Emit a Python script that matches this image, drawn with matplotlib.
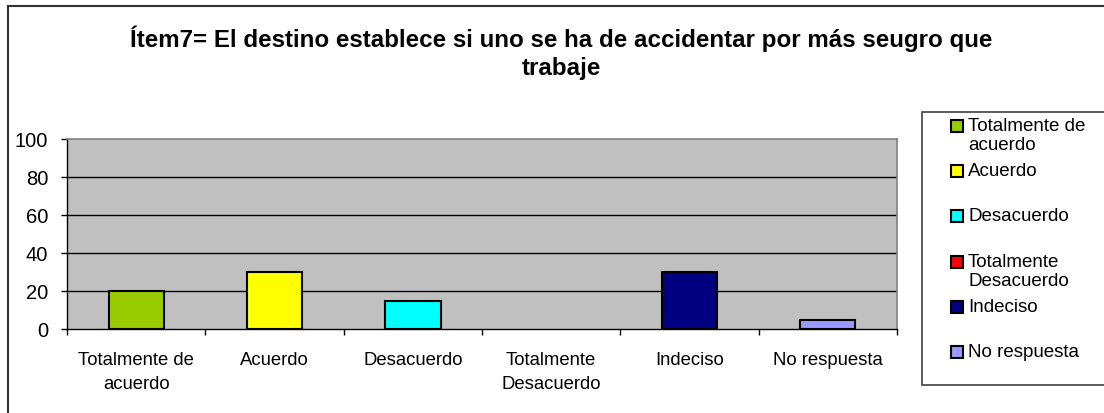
import matplotlib
matplotlib.use("Agg")
import matplotlib.pyplot as plt
from matplotlib.patches import Rectangle
from matplotlib.lines import Line2D
import numpy as np

# ===========================
# Data
# ===========================
TITLE = "Ítem7= El destino establece si uno se ha de accidentar por más seugro que\ntrabaje"
categories = ["Totalmente de\nacuerdo", "Acuerdo", "Desacuerdo",
              "Totalmente\nDesacuerdo", "Indeciso", "No respuesta"]
values = [20, 30, 15, 0, 30, 5]
colors = ["#99CC00", "#FFFF00", "#00FFFF", "#FF0000", "#000080", "#9999FF"]
y_ticks = [0, 20, 40, 60, 80, 100]

# ===========================
# Layout (pixels of the 1104x414 output)
# ===========================
W, H = 1104, 414
plt.rcParams["font.family"] = ["Liberation Sans", "DejaVu Sans"]


def fx(x):
    return x / W


def fy(y):
    return 1 - y / H


fig = plt.figure(figsize=(W / 100, H / 100), dpi=100)
fig.patch.set_facecolor("white")

# outer chart frame (right and bottom edges lie outside the picture)
fig.add_artist(Line2D([fx(8), fx(8)], [fy(7), fy(420)], color="#333333", lw=1.5))
fig.add_artist(Line2D([fx(8), fx(1110)], [fy(7), fy(7)], color="#333333", lw=1.5))

# plot area
left, right, top, bottom = 67, 897, 140, 330
ax = fig.add_axes([fx(left), fy(bottom), fx(right - left), (bottom - top) / H])
ax.set_facecolor("#C0C0C0")

x = np.arange(len(values))
edge_w = [1.5 if v > 0 else 0 for v in values]
ax.bar(x, values, width=0.4, color=colors, edgecolor="black", linewidth=edge_w, zorder=3)

ax.set_xlim(-0.5, len(values) - 0.5)
ax.set_ylim(0, 100)
ax.set_yticks(y_ticks)
ax.set_yticklabels([str(t) for t in y_ticks], fontsize=14.5)
for t in y_ticks[1:-1]:
    ax.axhline(t, color="black", lw=1, zorder=1)

ax.set_xticks(x)
ax.set_xticklabels(categories, fontsize=13.3, linespacing=1.55)
ax.set_xticks(np.arange(len(values) + 1) - 0.5, minor=True)
ax.tick_params(axis="x", which="major", length=0, pad=16)
ax.tick_params(axis="x", which="minor", length=4.5, width=1, direction="out")
ax.tick_params(axis="y", length=4.5, width=1, direction="out", pad=9)

for s in ["top", "right"]:
    ax.spines[s].set_color("#808080")
    ax.spines[s].set_linewidth(1.2)
for s in ["left", "bottom"]:
    ax.spines[s].set_color("black")
    ax.spines[s].set_linewidth(1)

# title (first line baseline near y=47)
fig.text(fx(561), fy(47 - 21), TITLE, ha="center", va="top", fontsize=17.4,
         fontweight="bold", linespacing=1.27)

# legend box with evenly spaced entries
fig.add_artist(Rectangle((fx(922), fy(386)), fx(200), (386 - 113) / H,
                         transform=fig.transFigure, facecolor="white",
                         edgecolor="#404040", lw=1.2))
for i, (lab, col) in enumerate(zip(categories, colors)):
    yc = 127 + i * 45.2
    fig.add_artist(Rectangle((fx(951), fy(yc + 6)), fx(12), 12 / H,
                             transform=fig.transFigure, facecolor=col,
                             edgecolor="black", lw=1.5))
    fig.text(fx(968), fy(yc + 6 - 15), lab, ha="left", va="top", fontsize=13.5,
             linespacing=1.15)

fig.savefig("out.png", dpi=100)
